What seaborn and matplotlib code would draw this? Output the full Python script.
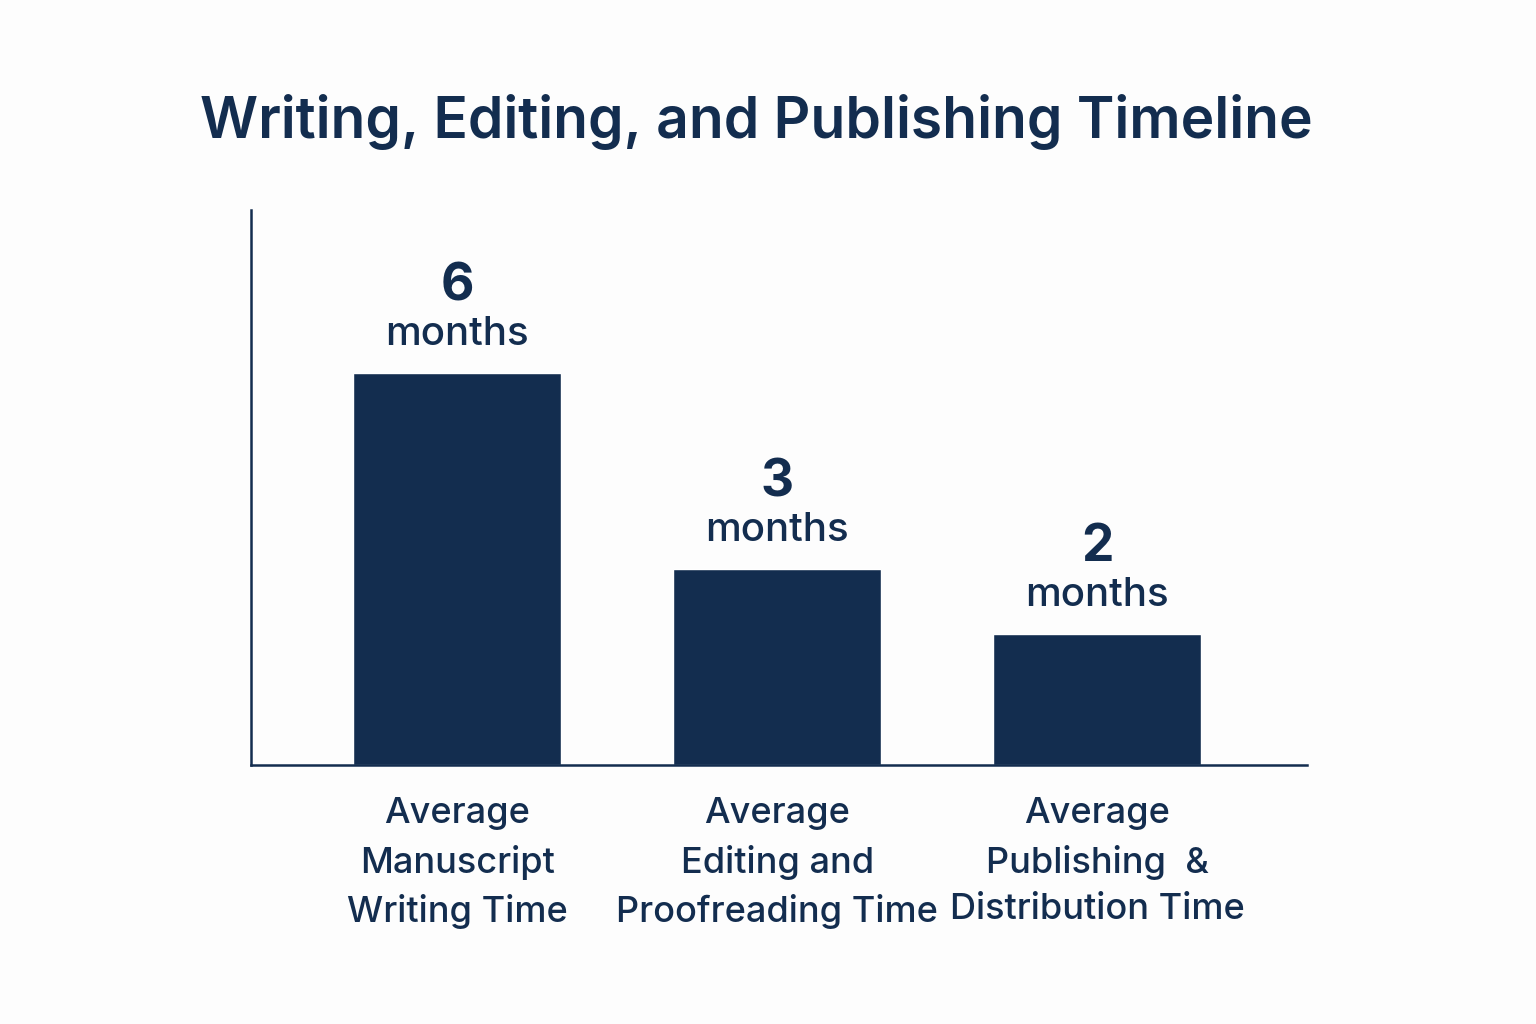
import matplotlib
matplotlib.use("Agg")
import matplotlib.pyplot as plt
import seaborn as sns
import pandas as pd

categories = [
    "Average\nManuscript\nWriting Time",
    "Average\nEditing and\nProofreading Time",
    "Average\nPublishing  &\nDistribution Time",
]
months = [6, 3, 2]
value_labels = ["6", "3", "2"]
unit_label = "months"
title = "Writing, Editing, and Publishing Timeline"

NAVY = "#132d4f"

sns.set_theme(style="white")
plt.rcParams["font.family"] = ["Inter", "DejaVu Sans"]

df = pd.DataFrame({"category": categories, "months": months})

fig = plt.figure(figsize=(15.36, 10.24), dpi=100)
fig.patch.set_facecolor("#fdfdfd")
ax = fig.add_axes([251 / 1536, 1 - 765 / 1024, (1307 - 251) / 1536, (765 - 210) / 1024])
ax.set_facecolor("#fdfdfd")

sns.barplot(data=df, x="category", y="months", color=NAVY, saturation=1,
            width=0.65, ax=ax)

ax.set_xlim(-0.644, 2.656)
ax.set_ylim(0, 8.5)
ax.set_xlabel("")
ax.set_ylabel("")
ax.set_yticks([])
ax.tick_params(axis="x", length=0, pad=23, labelsize=26, labelcolor=NAVY)
for lab in ax.get_xticklabels():
    lab.set_fontweight("medium")
    lab.set_linespacing(1.52)

for s in ["top", "right"]:
    ax.spines[s].set_visible(False)
for s in ["left", "bottom"]:
    ax.spines[s].set_color(NAVY)
    ax.spines[s].set_linewidth(1.8)

for p, v in zip(ax.patches, value_labels):
    cx = p.get_x() + p.get_width() / 2
    top = p.get_height()
    ax.annotate(unit_label, (cx, top), xytext=(0, 28), textcoords="offset pixels",
                ha="center", va="baseline", fontsize=29, fontweight="medium", color=NAVY)
    ax.annotate(v, (cx, top), xytext=(0, 73), textcoords="offset pixels",
                ha="center", va="baseline", fontsize=37, fontweight="bold", color=NAVY)

fig.text(756 / 1536, 1 - 138 / 1024, title, ha="center", va="baseline",
         fontsize=41, fontweight="semibold", color=NAVY)

fig.savefig("out.png", dpi=100, facecolor=fig.get_facecolor())
